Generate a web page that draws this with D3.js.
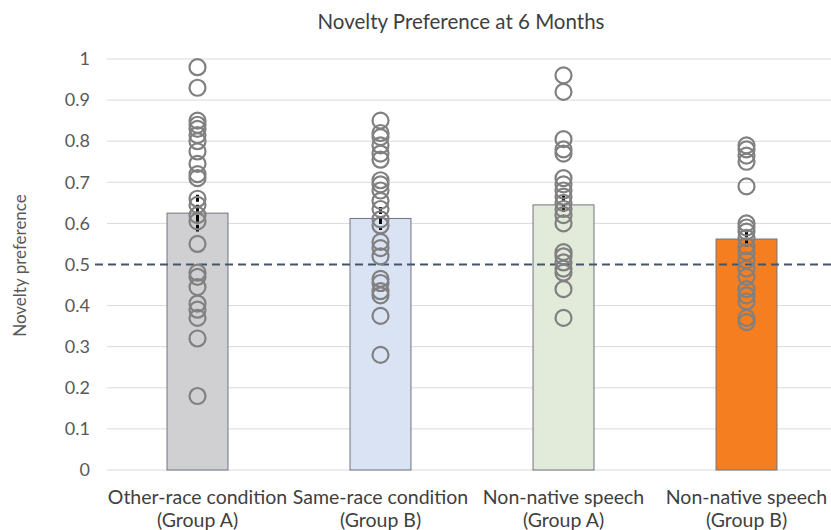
<!DOCTYPE html>
<html>
<head>
<meta charset="utf-8">
<script src="https://cdn.jsdelivr.net/npm/d3@7"></script>
<style>
  html, body { margin: 0; padding: 0; background: #ffffff; }
  svg { display: block; }
  text { font-family: Lato, "Open Sans", "Liberation Sans", sans-serif; }
</style>
</head>
<body>
<svg id="chart" width="831" height="530"></svg>
<script>
// Conditions shown along the x axis (two-line labels)
const categories = [
  ["Other-race condition", "(Group A)"],
  ["Same-race condition", "(Group B)"],
  ["Non-native speech", "(Group A)"],
  ["Non-native speech", "(Group B)"]
];

// Group means and standard errors
const means = [0.625, 0.612, 0.645, 0.562];
const stdErrors = [0.045, 0.028, 0.024, 0.022];

// Individual infant scores per condition
const otherRaceA = [0.98, 0.93, 0.85, 0.84, 0.83, 0.815, 0.80, 0.775, 0.745, 0.72, 0.71, 0.66,
  0.645, 0.62, 0.605, 0.55, 0.48, 0.47, 0.445, 0.405, 0.39, 0.37, 0.32, 0.18];
const sameRaceB = [0.85, 0.82, 0.81, 0.79, 0.77, 0.755, 0.705, 0.695, 0.68, 0.655, 0.635,
  0.61, 0.595, 0.555, 0.54, 0.52, 0.465, 0.455, 0.435, 0.425, 0.375, 0.28];
const speechA = [0.96, 0.92, 0.805, 0.78, 0.77, 0.71, 0.695, 0.68, 0.665, 0.65, 0.635, 0.62,
  0.60, 0.53, 0.52, 0.505, 0.49, 0.48, 0.44, 0.37];
const speechB = [0.79, 0.78, 0.765, 0.75, 0.69, 0.60, 0.59, 0.58, 0.565, 0.545, 0.53, 0.51,
  0.49, 0.47, 0.44, 0.425, 0.41, 0.37, 0.36];
const individualScores = [otherRaceA, sameRaceB, speechA, speechB];

// Axis ticks and chance reference level
const yTicks = [0, 0.1, 0.2, 0.3, 0.4, 0.5, 0.6, 0.7, 0.8, 0.9, 1];
const chanceLevel = 0.5;

const barFills = ["#d0d0d3", "#dae3f3", "#e2ebd9", "#f47e20"];
const title = "Novelty Preference at 6 Months";
const yTitle = "Novelty preference";

const svg = d3.select("#chart");
const plotLeft = 106, plotRight = 838, plotTop = 59, plotBottom = 470;

const x = d3.scaleBand()
  .domain(d3.range(categories.length))
  .range([plotLeft, plotRight])
  .paddingInner(0.667)
  .paddingOuter(0.3335);

const y = d3.scaleLinear().domain([0, 1]).range([plotBottom, plotTop]);

// Horizontal gridlines (including baseline)
svg.append("g")
  .selectAll("line")
  .data(yTicks.filter(t => t !== chanceLevel))
  .join("line")
  .attr("x1", 107).attr("x2", 831)
  .attr("y1", d => y(d)).attr("y2", d => y(d))
  .attr("stroke", "#d9d9d9").attr("stroke-width", 1);

// Y axis tick labels
const yAxis = d3.axisLeft(y).tickValues(yTicks).tickSize(0).tickPadding(0)
  .tickFormat(d => d3.format("~g")(d));
const yAxisG = svg.append("g").attr("transform", "translate(90,0)").call(yAxis);
yAxisG.select(".domain").remove();
yAxisG.selectAll("text")
  .attr("fill", "#595959")
  .style("font-size", "18px")
  .style("font-family", "Lato, 'Open Sans', sans-serif");

// Bars
svg.append("g")
  .selectAll("rect")
  .data(means)
  .join("rect")
  .attr("x", (d, i) => x(i))
  .attr("y", d => y(d))
  .attr("width", x.bandwidth())
  .attr("height", d => y(0) - y(d))
  .attr("fill", (d, i) => barFills[i])
  .attr("stroke", "#707482")
  .attr("stroke-width", 1);

// Chance level reference
svg.append("line")
  .attr("x1", 95).attr("x2", 831)
  .attr("y1", y(chanceLevel)).attr("y2", y(chanceLevel))
  .attr("stroke", "#44546a")
  .attr("stroke-width", 2)
  .attr("stroke-dasharray", "8,5");

// Standard error bars
svg.append("g")
  .selectAll("line")
  .data(means)
  .join("line")
  .attr("x1", (d, i) => x(i) + x.bandwidth() / 2)
  .attr("x2", (d, i) => x(i) + x.bandwidth() / 2)
  .attr("y1", (d, i) => y(d + stdErrors[i]))
  .attr("y2", (d, i) => y(d - stdErrors[i]))
  .attr("stroke", "#000000")
  .attr("stroke-width", 3)
  .attr("stroke-dasharray", "7,3");

// Individual scores as open circles
individualScores.forEach((scores, i) => {
  svg.append("g")
    .selectAll("circle")
    .data(scores)
    .join("circle")
    .attr("cx", x(i) + x.bandwidth() / 2)
    .attr("cy", d => y(d))
    .attr("r", 8)
    .attr("fill", "none")
    .attr("stroke", "#808080")
    .attr("stroke-width", 2.2);
});

// Category labels
const catG = svg.append("g");
categories.forEach((lines, i) => {
  const t = catG.append("text")
    .attr("x", x(i) + x.bandwidth() / 2)
    .attr("text-anchor", "middle")
    .attr("fill", "#404040")
    .style("font-size", "19.5px");
  lines.forEach((ln, j) => {
    t.append("tspan")
      .attr("x", x(i) + x.bandwidth() / 2)
      .attr("y", 504 + j * 23)
      .text(ln);
  });
});

// Title
svg.append("text")
  .attr("x", 461).attr("y", 29)
  .attr("text-anchor", "middle")
  .attr("fill", "#404040")
  .style("font-size", "20.5px")
  .text(title);

// Y axis title
svg.append("text")
  .attr("transform", `translate(26,${(plotTop + plotBottom) / 2 + 1}) rotate(-90)`)
  .attr("text-anchor", "middle")
  .attr("fill", "#595959")
  .style("font-size", "17px")
  .text(yTitle);
</script>
</body>
</html>
